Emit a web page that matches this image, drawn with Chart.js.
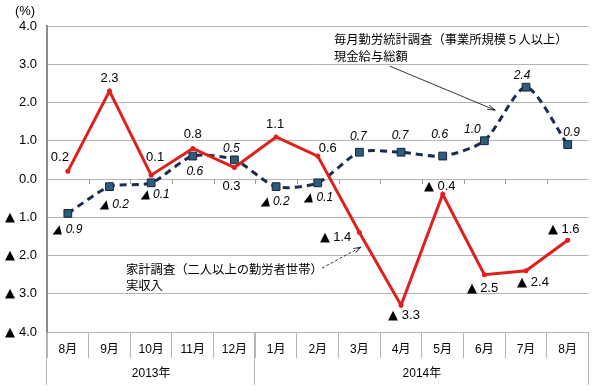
<!DOCTYPE html>
<html>
<head>
<meta charset="utf-8">
<script src="https://cdn.jsdelivr.net/npm/chart.js@4.4.1/dist/chart.umd.min.js"></script>
<style>
  /* bigger triangle glyph for the ▲ negative sign */
  @font-face {
    font-family: 'Tri';
    src: local('DejaVu Sans'), local('DejaVuSans');
    unicode-range: U+25B2;
  }
  html, body { margin: 0; padding: 0; background: #fff; }
  #wrap { width: 595px; height: 390px; }
</style>
</head>
<body>
<div id="wrap"><canvas id="chart"></canvas></div>
<script>
// categories (month labels) and the year groups under them
const months = ['8月', '9月', '10月', '11月', '12月', '1月', '2月', '3月', '4月', '5月', '6月', '7月', '8月'];
const years = ['2013年', '2014年'];
const monthsPerYear = [5, 8];

// 家計調査（二人以上の勤労者世帯）実収入, % change
const incomeValues = [0.2, 2.3, 0.1, 0.8, 0.3, 1.1, 0.6, -1.4, -3.3, -0.4, -2.5, -2.4, -1.6];
// 毎月勤労統計調査（事業所規模５人以上）現金給与総額, % change
const wageValues = [-0.9, -0.2, -0.1, 0.6, 0.5, -0.2, -0.1, 0.7, 0.7, 0.6, 1.0, 2.4, 0.9];

// y axis range
const yMin = -4;
const yMax = 4;

// where each value label sits relative to its point (px)
const incomeLabelOffsets = [[-8, -14], [0, -13], [4, -18], [0, -14], [-3, 19], [-1, -13], [10, -8],
  [-24, 5], [3, 10], [-3, -8], [-2, 14], [7, 12], [-4, -11]];
const wageLabelOffsets = [[0, 16], [5, 18], [4, 12], [2, 16], [-3, -11], [-1, 15], [1, 15],
  [-1, -16], [-1, -17], [-3, -21], [-12, -11], [-4, -12], [4, -12]];

const numFont = "Tri, 'Liberation Sans', 'DejaVu Sans', sans-serif";
const jpFont = "'Noto Sans CJK JP', sans-serif";

// ▲ marks negative numbers, as in Japanese statistics
function fmt(v) {
    return v < 0 ? '▲ ' + Math.abs(v).toFixed(1) : v.toFixed(1);
}

function arrow(ctx, x1, y1, x2, y2, dashed) {
    ctx.save();
    ctx.strokeStyle = '#000';
    ctx.lineWidth = 0.8;
    if (dashed) ctx.setLineDash([3, 2]);
    ctx.beginPath();
    ctx.moveTo(x1, y1);
    ctx.lineTo(x2, y2);
    ctx.stroke();
    ctx.setLineDash([]);
    const a = Math.atan2(y2 - y1, x2 - x1);
    ctx.beginPath();
    ctx.moveTo(x2, y2);
    ctx.lineTo(x2 - 8 * Math.cos(a - 0.3), y2 - 8 * Math.sin(a - 0.3));
    ctx.moveTo(x2, y2);
    ctx.lineTo(x2 - 8 * Math.cos(a + 0.3), y2 - 8 * Math.sin(a + 0.3));
    ctx.stroke();
    ctx.restore();
}

// extra drawing: year row, zero-line ticks, value labels, notes with arrows
const extras = {
    id: 'extras',
    afterDatasetsDraw(chart) {
        const ctx = chart.ctx;
        const xs = chart.scales.x;
        const ys = chart.scales.y;
        const area = chart.chartArea;
        const step = (area.right - area.left) / months.length;

        ctx.save();
        // small ticks on the zero line
        const y0 = ys.getPixelForValue(0);
        ctx.strokeStyle = '#a0a0a0';
        ctx.lineWidth = 1;
        for (let i = 1; i < months.length; i++) {
            const x = Math.round(area.left + step * i) + 0.5;
            ctx.beginPath();
            ctx.moveTo(x, y0);
            ctx.lineTo(x, y0 + 5);
            ctx.stroke();
        }

        // year separators and labels
        let start = 0;
        const bounds = [0];
        monthsPerYear.forEach(n => { start += n; bounds.push(start); });
        ctx.strokeStyle = '#b4b4b4';
        bounds.forEach(b => {
            const x = Math.round(area.left + step * b) - 0.5;
            ctx.beginPath();
            ctx.moveTo(x, area.bottom);
            ctx.lineTo(x, area.bottom + 53);
            ctx.stroke();
        });
        ctx.fillStyle = '#000';
        ctx.font = '12px ' + numFont + ', ' + jpFont;
        ctx.textAlign = 'center';
        ctx.textBaseline = 'middle';
        years.forEach((y, i) => {
            const x = area.left + step * (bounds[i] + bounds[i + 1]) / 2;
            ctx.fillText(y, x, area.bottom + 42);
        });

        // value labels
        const incMeta = chart.getDatasetMeta(0);
        ctx.font = '13px ' + numFont;
        incomeValues.forEach((v, i) => {
            const p = incMeta.data[i];
            ctx.fillText(fmt(v), p.x + incomeLabelOffsets[i][0], p.y + incomeLabelOffsets[i][1]);
        });
        const wageMeta = chart.getDatasetMeta(1);
        ctx.font = 'italic 12px ' + numFont;
        wageValues.forEach((v, i) => {
            const p = wageMeta.data[i];
            ctx.fillText(fmt(v), p.x + wageLabelOffsets[i][0], p.y + wageLabelOffsets[i][1]);
        });

        // (%) unit
        ctx.font = '13px ' + numFont;
        ctx.fillText('(%)', 25, 11);

        // series notes
        ctx.font = '12.3px ' + jpFont;
        ctx.textAlign = 'left';
        ctx.fillText('毎月勤労統計調査（事業所規模５人以上）', 334, 39);
        ctx.fillText('現金給与総額', 334, 56);
        ctx.fillText('家計調査（二人以上の勤労者世帯）', 126, 269);
        ctx.fillText('実収入', 126, 285);

        arrow(ctx, xs.getPixelForValue(7.73), ys.getPixelForValue(2.95),
            xs.getPixelForValue(10.26), ys.getPixelForValue(1.8), false);
        arrow(ctx, xs.getPixelForValue(6.1), ys.getPixelForValue(-2.33),
            xs.getPixelForValue(7.04), ys.getPixelForValue(-1.78), true);
        ctx.restore();
    }
};

function drawChart() {
    const ctx = document.getElementById('chart').getContext('2d');
    new Chart(ctx, {
        type: 'line',
        data: {
            labels: months,
            datasets: [{
                label: '家計調査 実収入',
                data: incomeValues,
                borderColor: '#e0201c',
                backgroundColor: '#e0201c',
                borderWidth: 3,
                pointRadius: 2.5,
                pointBorderWidth: 0,
                tension: 0
            }, {
                label: '毎月勤労統計調査 現金給与総額',
                data: wageValues,
                borderColor: '#1a2d50',
                borderDash: [7, 5],
                borderWidth: 3,
                pointStyle: 'rect',
                pointRadius: 5.5,
                pointBackgroundColor: '#2e5c7a',
                pointBorderColor: '#14253e',
                pointBorderWidth: 1,
                tension: 0.25
            }]
        },
        options: {
            responsive: true,
            maintainAspectRatio: false,
            animation: false,
            layout: { padding: { top: 26, right: 3, left: 0, bottom: 0 } },
            plugins: {
                legend: { display: false },
                tooltip: { enabled: false }
            },
            scales: {
                x: {
                    offset: true,
                    grid: { offset: true, drawOnChartArea: false, drawTicks: true, tickLength: 26, color: '#b4b4b4' },
                    border: { color: '#b4b4b4' },
                    ticks: { padding: -16, color: '#000', font: { size: 12, family: numFont + ', ' + jpFont }, maxRotation: 0, autoSkip: false },
                    afterFit: s => { s.height = 58; }
                },
                y: {
                    min: yMin,
                    max: yMax,
                    ticks: { stepSize: 1, padding: 10, color: '#000', font: { size: 13, family: numFont }, callback: v => fmt(v) },
                    grid: { color: '#b4b4b4', drawTicks: false },
                    border: { color: '#8c8c8c', width: 2 },
                    afterFit: s => { s.width = 47; }
                }
            }
        },
        plugins: [extras]
    });
}

// wait for the triangle face, then draw
document.fonts.load('13px Tri', '▲').then(drawChart, drawChart);
</script>
</body>
</html>
